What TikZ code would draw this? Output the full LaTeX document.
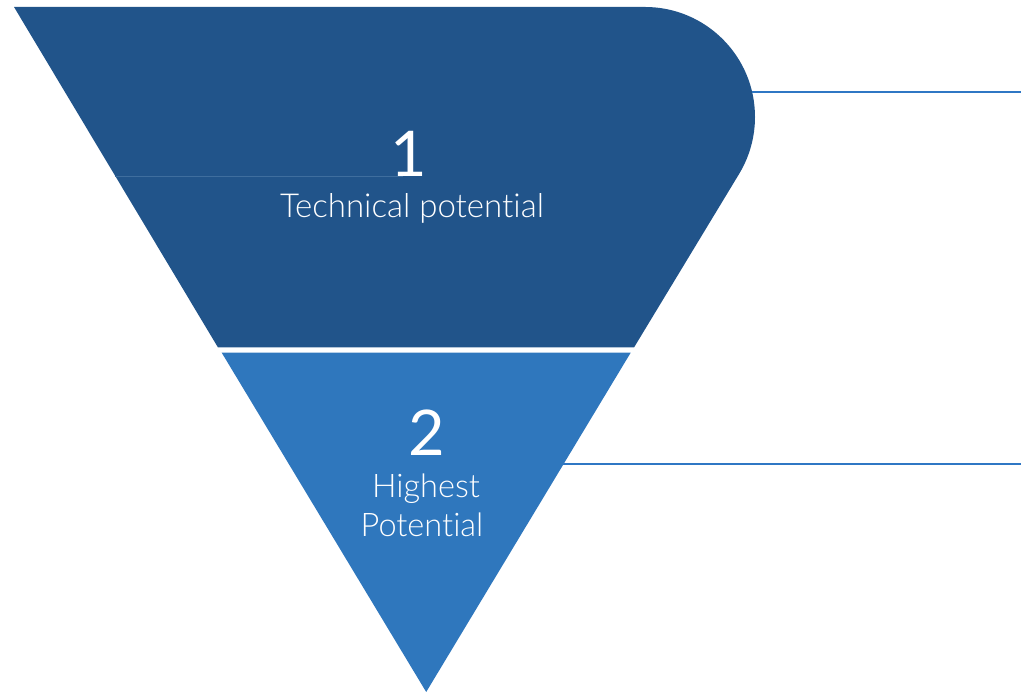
\documentclass[tikz,border=0pt]{standalone}
\usepackage{fontspec}
\setmainfont{Lato Light}[Ligatures={NoCommon,NoRare}]
\newfontfamily\numfont{Lato}
\definecolor{darkblue}{HTML}{21548A}
\definecolor{midblue}{HTML}{2F77BD}
\definecolor{lineblue}{HTML}{2F77C4}
\definecolor{seamblue}{HTML}{3F6E9E}
\begin{document}
\begin{tikzpicture}[x=1pt,y=1pt,
  numtext/.style={text=white,font=\numfont\fontsize{63}{63}\selectfont,inner sep=0pt,anchor=base},
  labtext/.style={text=white,font=\fontsize{33}{33}\selectfont,inner sep=0pt,anchor=base},
  labtextb/.style={text=white,font=\fontsize{32.5}{32.5}\selectfont,inner sep=0pt,anchor=base},
  connector/.style={draw=lineblue,line width=1.1pt}]
\useasboundingbox (0,0) rectangle (1021,692);
% top trapezoid with rounded top-right corner
\fill[darkblue] (14,685) -- (645,685) arc[start angle=90,end angle=-31,radius=110pt]
  -- (634,344.5) -- (218,344.5) -- cycle;
\draw[seamblue,line width=0.8pt] (115.4,516) -- (403,516);
% lower triangle
\fill[midblue] (221.7,339.3) -- (630.7,339.3) -- (426.2,0) -- cycle;
% connectors
\coordinate (c1) at (752,600);
\coordinate (e1) at (1021,600);
\coordinate (c2) at (563,228);
\coordinate (e2) at (1021,228);
\draw[connector] (c1) -- (e1);
\draw[connector] (c2) -- (e2);
% texts
\node[numtext] (n1) at (409,515) {1};
\node[labtext] (l1) at (412,474) {Technical potential};
\node[numtext] (n2) at (427,236) {2};
\node[labtextb] (l2a) at (426,194) {Highest};
\node[labtextb] (l2b) at (422,155) {Potential};
\end{tikzpicture}
\end{document}
